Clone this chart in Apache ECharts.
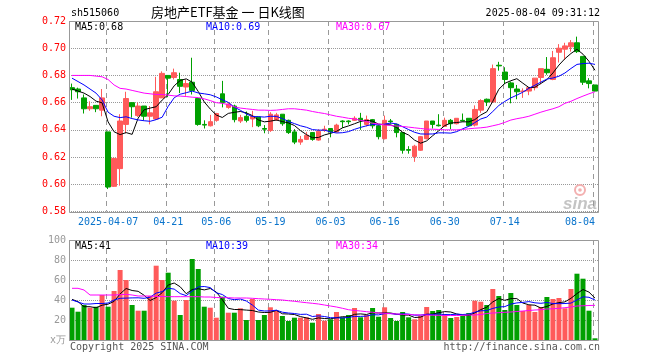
<!DOCTYPE html>
<html><head><meta charset="utf-8">
<script src="https://cdn.jsdelivr.net/npm/echarts@6/dist/echarts.min.js"></script>
<style>html,body{margin:0;padding:0;background:#fff}#c{width:660px;height:360px}</style>
</head><body><div id="c"></div>
<script>
const dates = ['2025-03-27','2025-03-28','2025-03-31','2025-04-01','2025-04-02','2025-04-03','2025-04-07','2025-04-08','2025-04-09','2025-04-10',
'2025-04-11','2025-04-14','2025-04-15','2025-04-16','2025-04-17','2025-04-18','2025-04-21','2025-04-22','2025-04-23','2025-04-24',
'2025-04-25','2025-04-28','2025-04-29','2025-04-30','2025-05-06','2025-05-07','2025-05-08','2025-05-09','2025-05-12','2025-05-13',
'2025-05-14','2025-05-15','2025-05-16','2025-05-19','2025-05-20','2025-05-21','2025-05-22','2025-05-23','2025-05-26','2025-05-27',
'2025-05-28','2025-05-29','2025-05-30','2025-06-03','2025-06-04','2025-06-05','2025-06-06','2025-06-09','2025-06-10','2025-06-11',
'2025-06-12','2025-06-13','2025-06-16','2025-06-17','2025-06-18','2025-06-19','2025-06-20','2025-06-23','2025-06-24','2025-06-25',
'2025-06-26','2025-06-27','2025-06-30','2025-07-01','2025-07-02','2025-07-03','2025-07-04','2025-07-07','2025-07-08','2025-07-09',
'2025-07-10','2025-07-11','2025-07-14','2025-07-15','2025-07-16','2025-07-17','2025-07-18','2025-07-21','2025-07-22','2025-07-23',
'2025-07-24','2025-07-25','2025-07-28','2025-07-29','2025-07-30','2025-07-31','2025-08-01','2025-08-04'];

const opens = [.671,.670,.6635,.6555,.658,.6545,.6385,.5985,.6115,.644,
.660,.6505,.6575,.650,.648,.6635,.680,.6785,.677,.6715,
.675,.663,.644,.643,.647,.6665,.6565,.6575,.6465,.650,
.648,.6495,.641,.6395,.6475,.6515,.647,.6385,.631,.633,
.638,.6325,.6395,.641,.6385,.6465,.6465,.647,.6485,.644,
.6475,.643,.6335,.6465,.644,.638,.6255,.6205,.625,.6335,
.6465,.6435,.6425,.647,.6445,.647,.6485,.6435,.6545,.6625,
.6605,.6875,.6825,.6745,.670,.6683,.6685,.671,.6785,.6845,
.677,.697,.6993,.701,.704,.694,.676,.673];
const closes = [.6695,.668,.6555,.657,.6555,.6635,.598,.619,.6465,.663,
.657,.6575,.650,.6525,.668,.6815,.678,.682,.672,.674,
.669,.644,.6435,.646,.652,.660,.659,.6475,.649,.647,
.650,.643,.6405,.6515,.651,.6445,.638,.631,.633,.636,
.633,.639,.6405,.6385,.6435,.646,.646,.6485,.647,.6475,
.643,.635,.647,.646,.638,.625,.625,.628,.635,.6465,
.644,.643,.647,.6445,.6485,.6465,.643,.655,.6615,.6605,
.685,.687,.677,.671,.668,.6685,.671,.678,.685,.682,
.693,.700,.7017,.704,.6975,.675,.674,.6685];
const highs = [.674,.671,.666,.661,.658,.670,.6385,.6195,.6515,.668,
.660,.660,.6575,.6575,.679,.683,.680,.685,.682,.677,
.693,.663,.647,.651,.6525,.676,.660,.6585,.651,.6535,
.654,.6495,.6435,.653,.6525,.6515,.6475,.6405,.6355,.6385,
.638,.6405,.643,.641,.6445,.647,.647,.650,.6525,.6505,
.648,.6435,.6505,.648,.6445,.638,.628,.629,.6355,.6465,
.6465,.6515,.649,.648,.6485,.652,.6485,.658,.6625,.663,
.688,.690,.686,.6755,.673,.6705,.6715,.678,.685,.6935,
.698,.703,.704,.706,.7085,.694,.678,.673];
const lows = [.662,.663,.652,.654,.653,.650,.5965,.598,.599,.6375,
.649,.6495,.647,.644,.6475,.6635,.664,.677,.667,.665,
.666,.643,.641,.6425,.646,.6565,.6555,.6455,.645,.6455,
.642,.642,.6375,.6385,.6465,.643,.637,.6295,.629,.6325,
.632,.632,.6385,.6345,.638,.6415,.644,.6465,.640,.6425,
.641,.633,.633,.6445,.6345,.6225,.6225,.6165,.6245,.633,
.641,.6425,.6425,.6405,.644,.6462,.6425,.6425,.6525,.6575,
.660,.6835,.6735,.6595,.6625,.6635,.6655,.669,.6735,.6805,
.6765,.6895,.6915,.6975,.6965,.673,.6705,.668];

const ma5 = [.6700,.6685,.6670,.6645,.6611,.6599,.6459,.6386,.6365,.6380,
.6367,.6486,.6548,.6560,.6570,.6619,.6660,.6724,.6763,.6775,
.6750,.6682,.6605,.6553,.6509,.6491,.6521,.6529,.6535,.6525,
.6505,.6473,.6459,.6464,.6472,.6461,.6451,.6432,.6395,.6365,
.6342,.6344,.6363,.6374,.6389,.6415,.6429,.6445,.6462,.6470,
.6464,.6442,.6439,.6437,.6418,.6382,.6362,.6324,.6302,.6319,
.6357,.6393,.6431,.6450,.6454,.6459,.6459,.6475,.6509,.6533,
.6610,.6698,.6742,.6761,.6776,.6743,.6711,.6713,.6741,.6769,
.6818,.6876,.6923,.6961,.6992,.6956,.6904,.6838];
const ma10 = [.6780,.6755,.6730,.6700,.6670,.6620,.6530,.6500,.6490,.6496,
.6483,.6473,.6467,.6463,.6475,.6493,.6573,.6636,.6662,.6673,
.6685,.6671,.6665,.6658,.6642,.6621,.6602,.6567,.6544,.6517,
.6498,.6497,.6494,.6500,.6499,.6483,.6462,.6446,.6430,.6419,
.6402,.6398,.6398,.6385,.6377,.6379,.6387,.6404,.6418,.6430,
.6440,.6436,.6442,.6450,.6444,.6423,.6402,.6382,.6370,.6369,
.6370,.6378,.6378,.6376,.6387,.6408,.6426,.6453,.6480,.6494,
.6535,.6579,.6609,.6635,.6655,.6677,.6705,.6728,.6751,.6773,
.6781,.6794,.6818,.6851,.6881,.6887,.6890,.6881];
const ma30 = [.680,.680,.680,.680,.6795,.679,.677,.673,.6705,.670,
.669,.668,.667,.6665,.666,.666,.6655,.665,.6648,.6645,
.664,.6637,.6628,.6615,.660,.6595,.6585,.657,.656,.6555,
.655,.6545,.6545,.6543,.6545,.655,.6555,.6555,.655,.6545,
.6535,.6527,.652,.651,.650,.6493,.6485,.648,.647,.6462,
.6448,.6443,.6437,.6432,.6428,.6425,.642,.6415,.641,.6405,
.6405,.6403,.640,.640,.640,.6403,.6408,.6412,.6415,.642,
.643,.644,.6455,.6472,.6482,.649,.650,.6515,.653,.6543,
.6555,.657,.6595,.661,.663,.6648,.6665,.668];

const volumes = [32.3,28.3,35,32.3,33.3,45,33.3,49,70,60,
35,29.3,29.3,44,74.3,60,67.3,39.3,25,40,
81,71,33.3,32.3,22.3,43.3,27.3,27.3,31.7,20,
41,20,25,32.7,29.3,24,19,22.3,22.3,22.7,
17.3,26,19.3,20.7,28,22.7,25,32,22.7,25,
32,23.3,32.7,22,19,28,22.7,20.7,24,33,
29,30,26,22,23,24.3,27,39.3,38.3,35,
51,44,30,47,35,29,35,28,33,43,
41,42,31.7,51,66.3,61.3,29.3,1.7];
const vma5 = [40.7,38.3,33.3,33.3,32.2,34.8,35.8,38.6,46.1,51.5,
49.5,48.7,44.7,39.5,42.4,47.4,55,57,53.2,46.3,
50.5,51.3,50.1,51.5,48,40.4,31.7,30.5,30.4,29.9,
29.5,28,27.5,27.7,29.6,26.2,26,25.5,23.4,22.1,
20.7,22.1,21.5,21.2,22.3,23.3,23.1,25.7,26.1,25.5,
27.3,27,27.1,27,25.8,25,24.9,22.5,22.9,25.7,
25.9,27.3,28.4,28,26,25.1,24.5,27.1,30.4,32.8,
38.1,41.5,39.7,41.4,41.4,37,35.2,34.8,32,33.6,
36,37.4,38.1,41.7,46.4,50.5,47.9,41.9];
const vma10 = [40,38,36,36,36.5,36.5,37,40,41.7,41.9,
42.1,42.2,41.7,42.8,46.9,48.4,51.8,50.9,46.4,44.4,
49,53.1,53.5,52.4,47.2,45.5,41.5,40.3,41,39,
35,29.9,29,29.1,29.8,27.8,27,26.5,25.6,25.8,
23.5,24.1,23.5,22.3,22.2,22,22.6,23.6,23.6,23.9,
25.3,25.1,26.4,26.5,25.6,26.2,25.9,24.8,24.9,25.7,
25.4,26.1,25.4,25.4,25.8,25.5,25.9,27.8,29.2,29.4,
31.6,33,33.4,35.9,37.1,37.6,38.4,37.2,36.7,37.5,
36.5,36.3,36.5,36.9,40,43.2,42.7,40];
const vma30 = [51.7,51.7,50,45,45,45,45,45,45.3,45.7,
45,44,44,44,43.5,43.5,43.3,43.3,43.3,43.3,
43.3,43.3,43,43,42.5,42.3,42.3,42,42,42,
41.7,41.3,41,40.7,40.3,40,39.3,38.7,38,37.3,
36.7,36,35,34,33,31.7,30.3,29.5,29,28.3,
27.7,27,26.7,26.3,26,25.7,25.5,25.2,25,25,
24.8,24.7,24.5,24.5,24.5,24.7,25,25,25.5,26.5,
27,27.3,27.7,28,28.5,29,29.5,30,30.3,31,
31.2,31.7,32.3,33,34,34.2,34.5,34.7];

const labelDates = ['2025-04-07','2025-04-21','2025-05-06','2025-05-19','2025-06-03','2025-06-16','2025-06-30','2025-07-14','2025-08-04'];
const priceMin = 0.58, priceMax = 0.72, priceStep = 0.02;
const volMin = 0, volMax = 100, volStep = 20;
const priceLegend = ['MA5:0.68','MA10:0.69','MA30:0.67'];
const volLegend = ['MA5:41','MA10:39','MA30:34'];

const UP = '#ff5a5a', DOWN = '#00a000';
const MONO = '"DejaVu Sans Mono", "Liberation Mono", monospace';
const GRIDC = '#999999';
const G0 = {left:69, top:21, width:529, height:190.5};
const G1 = {left:69, top:240, width:529, height:100};

const kData = dates.map((d,i)=>[opens[i],closes[i],lows[i],highs[i]]);
const volData = volumes.map((v,i)=>({value:v,itemStyle:{color: closes[i]>=opens[i]?UP:DOWN}}));
const isLabelDate = (i,v)=>labelDates.indexOf(v)>=0 || labelDates.indexOf(dates[i])>=0;

function maLine(data, color, xi, yi){
  return {type:'line', data, xAxisIndex:xi, yAxisIndex:yi, symbol:'none', showSymbol:false,
    lineStyle:{color, width:1}, itemStyle:{color}, z:5, silent:true};
}
function txt(x,y,text,fill,font,align){
  return {type:'text', x, y, silent:true, style:{text, fill, font, textAlign:align||'left', textVerticalAlign:'middle'}};
}
const hSplit = {show:true, lineStyle:{color:GRIDC, type:'dotted', width:1}};

const chart = echarts.init(document.getElementById('c'), null, {renderer:'canvas'});
const option = {
  animation:false,
  backgroundColor:'#ffffff',
  grid:[Object.assign({show:false}, G0), Object.assign({show:false}, G1)],
  xAxis:[
    {type:'category', gridIndex:0, data:dates, boundaryGap:true,
     axisLine:{show:false}, axisTick:{show:false}, splitLine:{show:false},
     axisLabel:{interval:isLabelDate,
       formatter:(v)=> v===labelDates[0] ? v : v.slice(5),
       color:'#0a74cc', fontFamily:MONO, fontSize:10, margin:6, alignMaxLabel:'right'}},
    {type:'category', gridIndex:1, data:dates, boundaryGap:true,
     axisLine:{show:false}, axisTick:{show:false}, axisLabel:{show:false}, splitLine:{show:false}}
  ],
  yAxis:[
    {type:'value', gridIndex:0, min:priceMin, max:priceMax, interval:priceStep,
     axisLine:{show:false}, axisTick:{show:false}, splitLine:hSplit,
     axisLabel:{formatter:v=>v.toFixed(2), color:'#ff0000', fontFamily:MONO, fontSize:10, margin:3}},
    {type:'value', gridIndex:1, min:volMin, max:volMax, interval:volStep,
     axisLine:{show:false}, axisTick:{show:false}, splitLine:hSplit,
     axisLabel:{formatter:v=> v===0 ? 'x万' : String(v), color:'#999', fontFamily:MONO, fontSize:10, margin:3}}
  ],
  series:[
    {type:'candlestick', data:kData, xAxisIndex:0, yAxisIndex:0, barWidth:5, z:3,
     itemStyle:{color:UP, color0:DOWN, borderColor:UP, borderColor0:DOWN, borderWidth:1}},
    maLine(ma5,'#000000',0,0), maLine(ma10,'#0000ff',0,0), maLine(ma30,'#ff00ff',0,0),
    {type:'bar', data:volData, xAxisIndex:1, yAxisIndex:1, barWidth:5, z:3},
    maLine(vma5,'#000000',1,1), maLine(vma10,'#0000ff',1,1), maLine(vma30,'#ff00ff',1,1)
  ]
};
chart.setOption(option);

function px(finder, v, fallback){
  const r = chart.convertToPixel(finder, v);
  const n = Array.isArray(r) ? r[0] : r;
  return (typeof n === 'number' && isFinite(n)) ? n : fallback;
}
const band = G0.width / dates.length;
const yT0 = px({yAxisIndex:0}, priceMax, G0.top), yB0 = px({yAxisIndex:0}, priceMin, G0.top+G0.height);
const yT1 = px({yAxisIndex:1}, volMax, G1.top), yB1 = px({yAxisIndex:1}, volMin, G1.top+G1.height);
const els = [];
labelDates.forEach(d=>{
  const idx = dates.indexOf(d);
  const cx = px({xAxisIndex:0}, idx, G0.left + (idx+0.5)*band);
  const x = Math.round(cx) - 1.5;
  els.push({type:'line', z:2, silent:true, shape:{x1:x, y1:yT0, x2:x, y2:yB0}, style:{stroke:GRIDC, lineWidth:1, lineDash:[5,4]}});
  els.push({type:'line', z:2, silent:true, shape:{x1:x, y1:yT1, x2:x, y2:yB1}, style:{stroke:GRIDC, lineWidth:1, lineDash:[5,4]}});
});
els.push({type:'rect', z:10, silent:true, shape:{x:G0.left+0.5, y:Math.round(yT0)+0.5, width:G0.width, height:Math.round(yB0-yT0)}, style:{fill:null, stroke:'#999', lineWidth:1}});
els.push({type:'rect', z:10, silent:true, shape:{x:G1.left+0.5, y:Math.round(yT1)+0.5, width:G1.width, height:Math.round(yB1-yT1)}, style:{fill:null, stroke:'#999', lineWidth:1}});
els.push(
  txt(71,13,'sh515060','#000','10px '+MONO),
  txt(151,12,'房地产ETF基金 一 日K线图','#000','13px "Noto Sans CJK SC"'),
  txt(600,13,'2025-08-04 09:31:12','#000','10px '+MONO,'right'),
  txt(75,27,priceLegend[0],'#000','10px '+MONO),
  txt(206,27,priceLegend[1],'#0000ff','10px '+MONO),
  txt(336,27,priceLegend[2],'#ff00ff','10px '+MONO),
  txt(75,246,volLegend[0],'#000','10px '+MONO),
  txt(206,246,volLegend[1],'#0000ff','10px '+MONO),
  txt(336,246,volLegend[2],'#ff00ff','10px '+MONO),
  txt(70,347,'Copyright 2025 SINA.COM','#555','10px '+MONO),
  txt(600,347,'http://finance.sina.com.cn','#555','10px '+MONO,'right'),
  {type:'circle', shape:{cx:580, cy:190, r:5}, silent:true, style:{fill:null, stroke:'#f3b0b0', lineWidth:2}},
  {type:'circle', shape:{cx:580, cy:190, r:1.8}, silent:true, style:{fill:'#f3b0b0'}},
  {type:'text', x:597, y:204, silent:true, style:{text:'sina', fill:'#c4c4c4', font:'italic bold 17px "Liberation Sans"', textAlign:'right', textVerticalAlign:'middle'}}
);
chart.setOption({graphic:{elements:els}});
</script>
</body></html>
